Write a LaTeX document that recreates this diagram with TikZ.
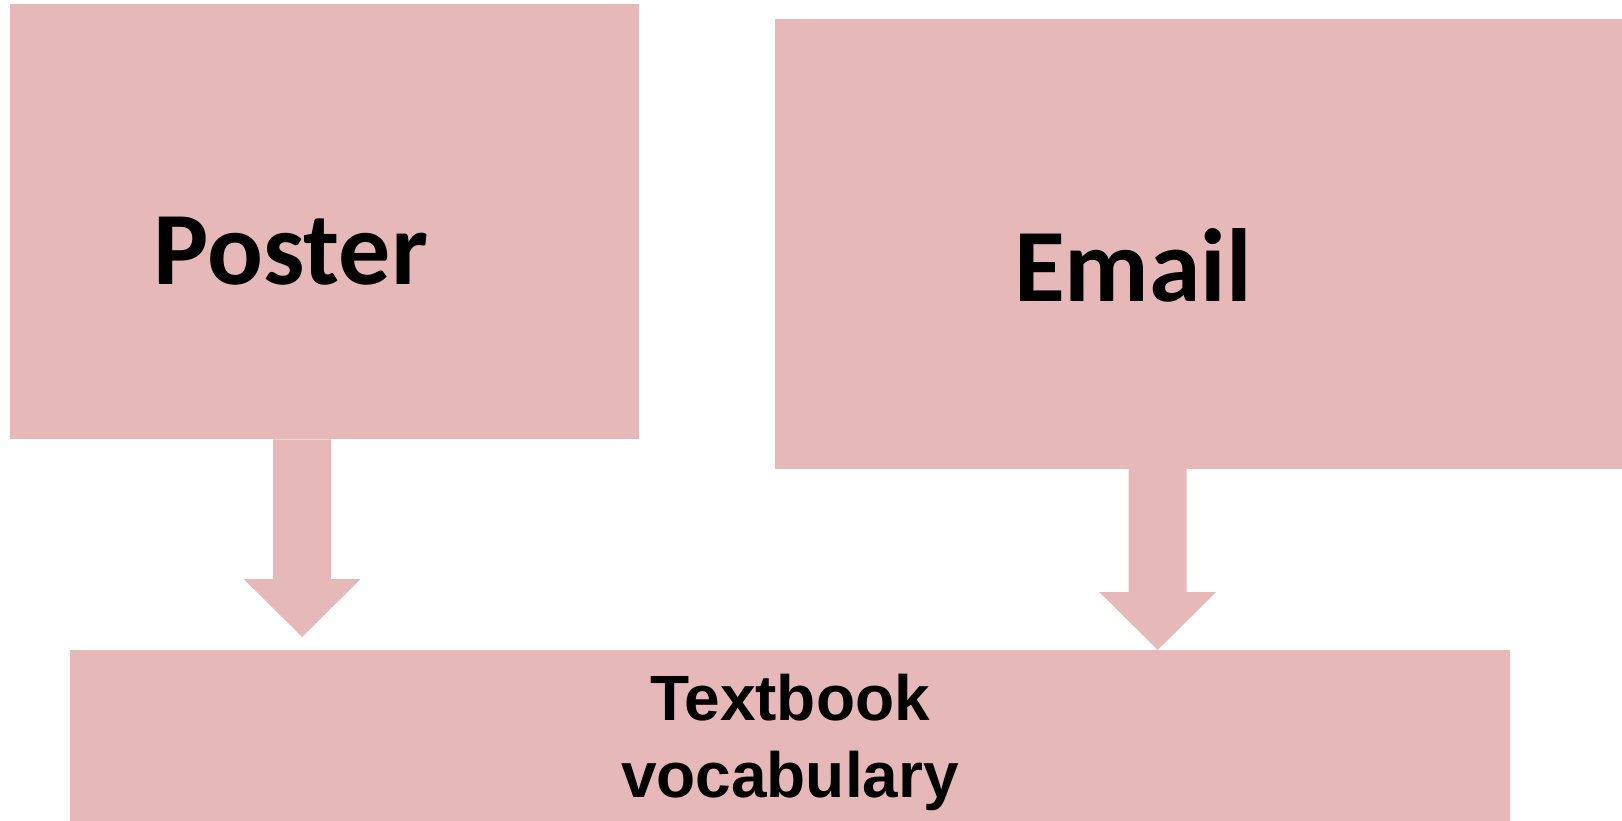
\documentclass[tikz,border=0pt]{standalone}
\usepackage{fontspec}
\newfontfamily\calibrifont{Carlito}
\newfontfamily\arialfont{Liberation Sans}
\usetikzlibrary{calc}
\definecolor{rose}{HTML}{E6B9B8}

% Wide block arrow: start point, end point, gap left before the end point
\newcommand\pinkarrow[3]{%
  \fill[rose] let \p1=(#1), \p2=(#2) in
    (\x1-29pt,\y1) -- (\x1+29pt,\y1) -- (\x1+29pt,\y2+#3+58pt)
    -- (\x1+58.5pt,\y2+#3+58pt) -- (\x1,\y2+#3)
    -- (\x1-58.5pt,\y2+#3+58pt) -- (\x1-29pt,\y2+#3+58pt) -- cycle;}

\begin{document}
\begin{tikzpicture}[x=1pt,y=-1pt,
  box/.style={fill=rose, draw=none, inner sep=0pt, anchor=north west},
  bigword/.style={font=\calibrifont\bfseries\fontsize{104}{104}\selectfont, anchor=base, inner sep=0pt},
  smallword/.style={font=\arialfont\bfseries\fontsize{64}{76.5}\selectfont, align=center, anchor=base, inner sep=0pt}]
\useasboundingbox (0,0) rectangle (1622,821);

% blocks
\node[box, minimum width=629pt, minimum height=435pt] (poster) at (10,4) {};
\node[box, minimum width=847pt, minimum height=450pt] (email) at (775,18.5) {};
\node[box, minimum width=1440pt, minimum height=171pt] (vocab) at (70,650) {};

% labels (the two-line label sits on the baseline of its last line)
\node[bigword] (postertext) at (291,284.5) {Poster};
\node[bigword] (emailtext) at (1133,301) {Email};
\node[smallword] (vocabtext) at (790,797) {Textbook\\vocabulary};

% arrow anchor points on the block edges
\coordinate (a1s) at ($(poster.south west)!0.4642!(poster.south east)$);
\coordinate (a1e) at (a1s |- vocab.north);
\coordinate (a2s) at ($(email.south west)!0.4516!(email.south east)$);
\coordinate (a2e) at (a2s |- vocab.north);

\pinkarrow{a1s}{a1e}{13pt}
\pinkarrow{a2s}{a2e}{0pt}
\end{tikzpicture}
\end{document}
